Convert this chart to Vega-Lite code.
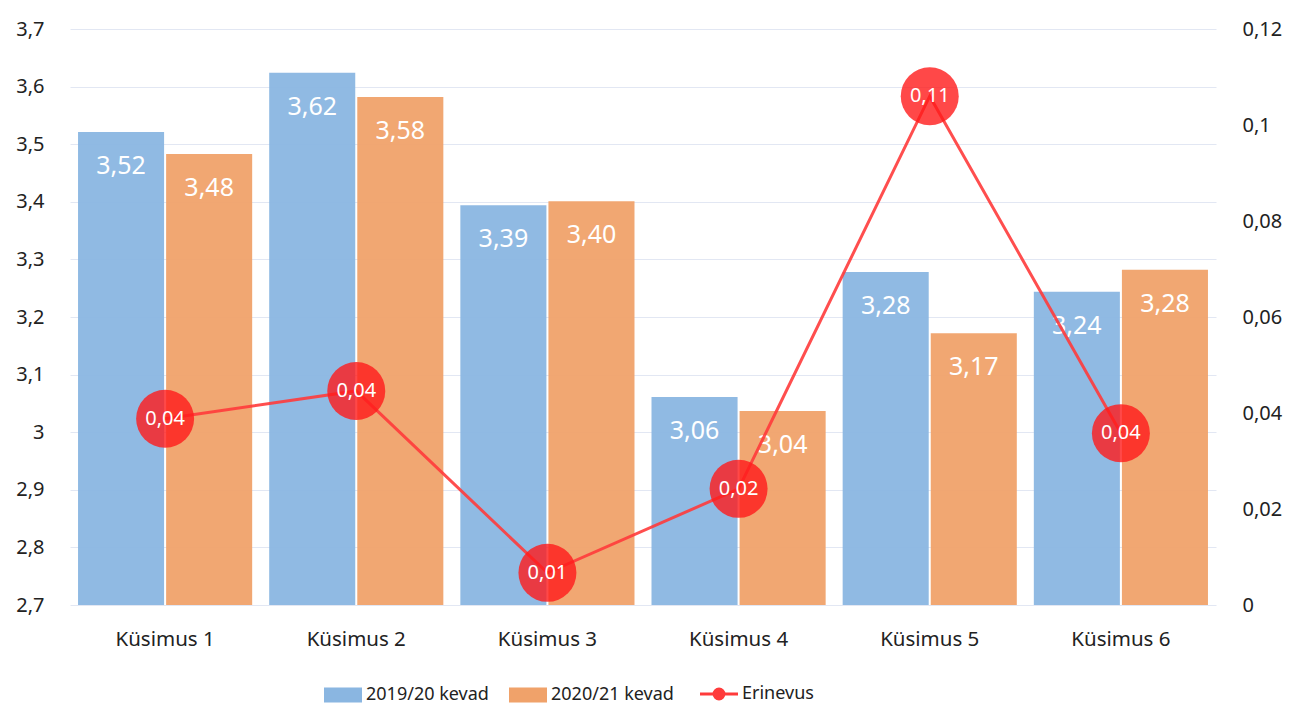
{
  "$schema": "https://vega.github.io/schema/vega-lite/v6.json",
  "width": 1146,
  "height": 576,
  "autosize": {"type": "none"},
  "padding": {"left": 70, "top": 29, "right": 74, "bottom": 101},
  "background": "white",
  "datasets": {
    "bars": [
      {"q": "Küsimus 1", "series": "2019/20 kevad", "value": 3.521},
      {"q": "Küsimus 1", "series": "2020/21 kevad", "value": 3.483},
      {"q": "Küsimus 2", "series": "2019/20 kevad", "value": 3.624},
      {"q": "Küsimus 2", "series": "2020/21 kevad", "value": 3.582},
      {"q": "Küsimus 3", "series": "2019/20 kevad", "value": 3.394},
      {"q": "Küsimus 3", "series": "2020/21 kevad", "value": 3.401},
      {"q": "Küsimus 4", "series": "2019/20 kevad", "value": 3.061},
      {"q": "Küsimus 4", "series": "2020/21 kevad", "value": 3.037},
      {"q": "Küsimus 5", "series": "2019/20 kevad", "value": 3.278},
      {"q": "Küsimus 5", "series": "2020/21 kevad", "value": 3.172},
      {"q": "Küsimus 6", "series": "2019/20 kevad", "value": 3.244},
      {"q": "Küsimus 6", "series": "2020/21 kevad", "value": 3.282}
    ],
    "diff": [
      {"q": "Küsimus 1", "diff": 0.0388},
      {"q": "Küsimus 2", "diff": 0.0446},
      {"q": "Küsimus 3", "diff": 0.0067},
      {"q": "Küsimus 4", "diff": 0.0242},
      {"q": "Küsimus 5", "diff": 0.106},
      {"q": "Küsimus 6", "diff": 0.0358}
    ]
  },
  "layer": [
    {
      "data": {"name": "bars"},
      "encoding": {
        "x": {
          "field": "q", "type": "nominal", "sort": null,
          "scale": {"paddingInner": 0.089, "paddingOuter": 0.042},
          "axis": {"title": null, "domain": false, "ticks": false, "labelPadding": 24, "labelAngle": 0, "labelFontSize": 20.5, "labelColor": "#222222"}
        },
        "xOffset": {"field": "series", "type": "nominal", "scale": {"paddingInner": 0.023, "paddingOuter": 0}},
        "y": {
          "field": "value", "type": "quantitative",
          "scale": {"domain": [2.7, 3.7], "nice": false, "zero": false},
          "axis": {
            "orient": "left", "title": null, "values": [2.7, 2.8, 2.9, 3.0, 3.1, 3.2, 3.3, 3.4, 3.5, 3.6, 3.7],
            "format": ".1~f", "grid": true, "gridColor": "#E2E7F3", "gridWidth": 1, "domain": false, "ticks": false,
            "labelPadding": 26, "labelFontSize": 20, "labelColor": "#222222"
          }
        }
      },
      "layer": [
        {
          "mark": {"type": "bar", "opacity": 0.95, "clip": true},
          "encoding": {
            "color": {
              "field": "series", "type": "nominal",
              "scale": {"domain": ["2019/20 kevad", "2020/21 kevad", "Erinevus"], "range": ["#8AB6E1", "#F0A26A", "#FF3B3B"]},
              "legend": {
                "orient": "none", "legendX": 264, "legendY": 656, "direction": "horizontal", "title": null,
                "symbolType": "M-1,-0.4H1V0.4H-1Z", "symbolSize": 1444, "symbolOpacity": 1,
                "labelFontSize": 18, "labelOffset": 14, "columnPadding": 20, "labelColor": "#222222",
                "encode": {
                  "symbols": {
                    "update": {
                      "shape": {"signal": "datum.value === 'Erinevus' ? 'M-1,0H1M0.26,0A0.26,0.26,0,1,1,-0.26,0A0.26,0.26,0,1,1,0.26,0Z' : 'M-1,-0.4H1V0.4H-1Z'"},
                      "stroke": {"signal": "datum.value === 'Erinevus' ? '#FF3B3B' : 'transparent'"},
                      "strokeWidth": {"signal": "datum.value === 'Erinevus' ? 3 : 0"},
                      "fill": {"signal": "datum.value === 'Erinevus' ? '#FF3B3B' : (datum.value === '2019/20 kevad' ? '#8AB6E1' : '#F0A26A')"}
                    }
                  }
                }
              }
            }
          }
        },
        {
          "mark": {"type": "text", "baseline": "middle", "align": "center", "dy": 34, "fontSize": 25, "color": "white"},
          "encoding": {"text": {"field": "value", "type": "quantitative", "format": ".2f"}}
        }
      ]
    },
    {
      "data": {"name": "diff"},
      "encoding": {
        "x": {"field": "q", "type": "nominal", "sort": null},
        "y": {
          "field": "diff", "type": "quantitative",
          "scale": {"domain": [0, 0.12], "nice": false},
          "axis": {
            "orient": "right", "title": null, "values": [0, 0.02, 0.04, 0.06, 0.08, 0.1, 0.12],
            "format": ".2~f", "grid": false, "domain": false, "ticks": false,
            "labelPadding": 26, "labelFontSize": 20, "labelColor": "#222222"
          }
        }
      },
      "layer": [
        {"mark": {"type": "line", "color": "#FF3B3B", "strokeWidth": 3, "opacity": 0.9}},
        {"mark": {"type": "point", "filled": true, "size": 3364, "color": "#FF1A1A", "opacity": 0.8}},
        {
          "mark": {"type": "text", "baseline": "middle", "align": "center", "fontSize": 20, "color": "white"},
          "encoding": {"text": {"field": "diff", "type": "quantitative", "format": ".2f"}}
        }
      ]
    }
  ],
  "resolve": {"scale": {"y": "independent"}},
  "config": {
    "font": "Noto Sans",
    "view": {"stroke": null},
    "locale": {"number": {"decimal": ",", "thousands": " ", "grouping": [3], "currency": ["", " €"]}}
  }
}
